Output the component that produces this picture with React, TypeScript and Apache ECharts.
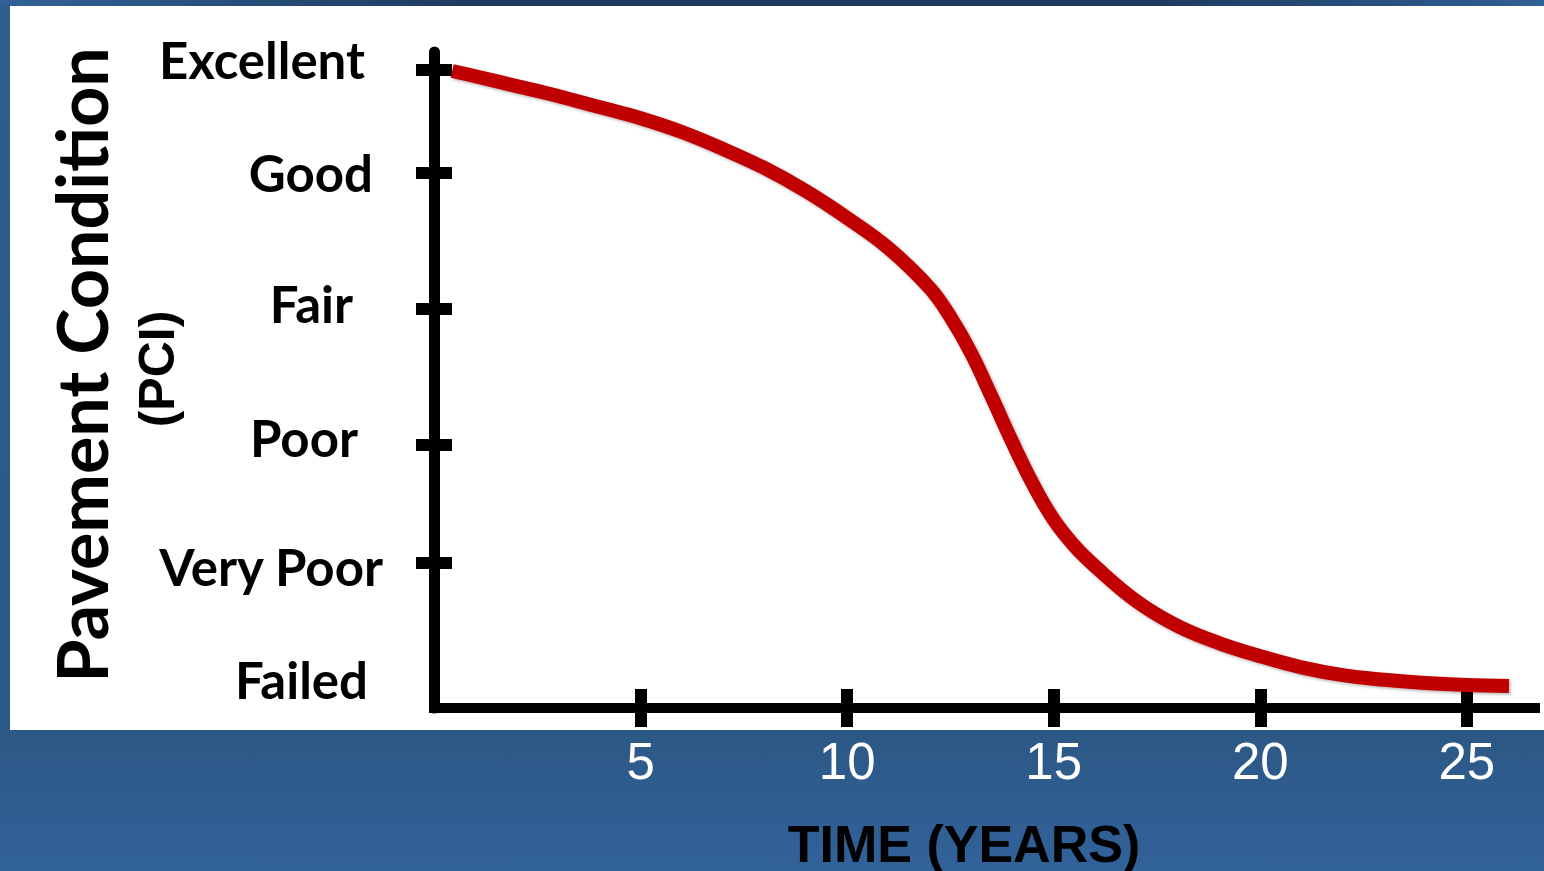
import React, { useEffect, useRef } from "react";
import * as echarts from "echarts";

// ---- data ----
const years = [0.44, 1, 2, 3, 4, 5, 6, 7, 8, 9, 10, 11, 12, 12.5, 13, 13.5, 14, 14.5, 15, 15.5, 16, 17, 18, 19, 20, 21, 22, 23, 24, 25, 26.02];
const pci = [97.1, 96.3, 94.8, 93.3, 91.6, 89.9, 87.8, 85.2, 82.3, 78.8, 74.7, 70.1, 64.0, 59.6, 54.1, 47.4, 40.5, 34.1, 28.7, 24.7, 21.6, 16.3, 12.5, 9.9, 7.9, 6.2, 5.0, 4.3, 3.8, 3.5, 3.35];

const xTickValues = [5, 10, 15, 20, 25];
const yTickValues = [97.3, 81.6, 60.8, 40.1, 22.1];
const yLabelNames = ["Excellent", "Good", "Fair", "Poor", "Very Poor", "Failed"];
const yLabelValues = [98.8, 81.7, 61.6, 41.3, 21.5, 4.4];

const xTitle = "TIME (YEARS)";
const yTitle = "Pavement Condition";
const ySubTitle = "(PCI)";

// ---- styles ----
const labelPadRight = [18, 10, 30, 25, 0, 15];
const W = 1544;
const H = 871;

export default function App() {
  const ref = useRef<HTMLDivElement>(null);

  useEffect(() => {
    if (!ref.current) return;
    const chart = echarts.init(ref.current, undefined, { renderer: "svg" });

    const rich: Record<string, any> = {};
    yLabelNames.forEach((_, i) => {
      rich["l" + i] = {
        fontFamily: "Lato, 'Open Sans', sans-serif",
        fontWeight: "bold",
        fontSize: 51,
        color: "#000",
        padding: [0, labelPadRight[i], 0, 0],
      };
    });

    const yLabelFormatter = (v: number) => {
      const i = yLabelValues.findIndex((lv) => Math.abs(lv - v) < 0.001);
      return i >= 0 ? `{l${i}|${yLabelNames[i]}}` : "";
    };

    const option: any = {
      animation: false,
      graphic: [
        {
          type: "rect",
          z: -20,
          shape: { x: 0, y: 0, width: W, height: H },
          style: {
            fill: new echarts.graphic.LinearGradient(0, 0, 0, 1, [
              { offset: 0, color: "#2e5d90" },
              { offset: 0.84, color: "#2c5885" },
              { offset: 1, color: "#31629a" },
            ]),
          },
        },
        {
          type: "rect",
          z: -19,
          shape: { x: 0, y: 0, width: W, height: 6 },
          style: {
            fill: new echarts.graphic.LinearGradient(0, 0, 1, 0, [
              { offset: 0, color: "#306297" },
              { offset: 0.3, color: "#1f3b60" },
              { offset: 0.75, color: "#1f3b60" },
              { offset: 1, color: "#2f6096" },
            ]),
          },
        },
        {
          type: "rect",
          z: -18,
          shape: { x: 10, y: 6, width: W - 10, height: 724 },
          style: { fill: "#ffffff" },
        },
        {
          type: "text",
          z: 10,
          x: 81,
          y: 365,
          rotation: Math.PI / 2,
          style: {
            text: yTitle,
            fontFamily: "Lato, 'Open Sans', sans-serif",
            fontWeight: "bold",
            fontSize: 70,
            fill: "#000",
            textAlign: "center",
            textVerticalAlign: "middle",
          },
        },
        {
          type: "text",
          z: 10,
          x: 157,
          y: 369,
          rotation: Math.PI / 2,
          style: {
            text: ySubTitle,
            fontFamily: "'Liberation Sans', Arial, sans-serif",
            fontWeight: "bold",
            fontSize: 50,
            fill: "#000",
            textAlign: "center",
            textVerticalAlign: "middle",
          },
        },
        {
          type: "text",
          z: 10,
          x: 964,
          y: 844,
          style: {
            text: xTitle,
            fontFamily: "'Liberation Sans', Arial, sans-serif",
            fontWeight: "bold",
            fontSize: 52,
            fill: "#000",
            textAlign: "center",
            textVerticalAlign: "middle",
          },
        },
      ],
      grid: {
        left: 434,
        right: 9,
        top: 52,
        bottom: 163,
        containLabel: false,
        outerBoundsMode: "none",
      },
      xAxis: [
        {
          type: "value",
          position: "bottom",
          min: 0,
          max: 26.65,
          axisLine: {
            show: true,
            onZero: false,
            lineStyle: { color: "#000", width: 10, cap: "square" },
          },
          axisTick: {
            show: true,
            inside: false,
            length: 19,
            customValues: xTickValues,
            lineStyle: { color: "#000", width: 12 },
          },
          axisLabel: {
            show: true,
            customValues: xTickValues,
            margin: 28,
            color: "#fff",
            fontSize: 51,
            fontFamily: "'Liberation Sans', Arial, sans-serif",
          },
          splitLine: { show: false },
        },
        {
          type: "value",
          position: "bottom",
          offset: 0,
          min: 0,
          max: 26.65,
          axisLine: { show: false, onZero: false },
          axisTick: {
            show: true,
            inside: true,
            length: 19,
            customValues: xTickValues,
            lineStyle: { color: "#000", width: 12 },
          },
          axisLabel: { show: false },
          splitLine: { show: false },
        },
      ],
      yAxis: [
        {
          type: "value",
          position: "left",
          min: 0,
          max: 100,
          axisLine: {
            show: true,
            onZero: false,
            lineStyle: { color: "#000", width: 11 },
          },
          axisTick: {
            show: true,
            inside: false,
            length: 18,
            customValues: yTickValues,
            lineStyle: { color: "#000", width: 12 },
          },
          axisLabel: {
            show: true,
            customValues: yLabelValues,
            margin: 51,
            formatter: yLabelFormatter,
            rich,
          },
          splitLine: { show: false },
        },
        {
          type: "value",
          position: "left",
          offset: 0,
          min: 0,
          max: 100,
          axisLine: { show: false, onZero: false },
          axisTick: {
            show: true,
            inside: true,
            length: 18,
            customValues: yTickValues,
            lineStyle: { color: "#000", width: 12 },
          },
          axisLabel: { show: false },
          splitLine: { show: false },
        },
      ],
      series: [
        {
          type: "line",
          xAxisIndex: 0,
          yAxisIndex: 0,
          data: years.map((x, i) => [x, pci[i]]),
          smooth: 0.4,
          showSymbol: false,
          symbol: "none",
          z: 5,
          lineStyle: {
            color: "#c00000",
            width: 14,
            cap: "butt",
            shadowBlur: 3,
            shadowColor: "rgba(0,0,0,0.3)",
            shadowOffsetX: 1.5,
            shadowOffsetY: 1.5,
          },
        },
      ],
    };

    chart.setOption(option);
    return () => chart.dispose();
  }, []);

  return (
    <div
      ref={ref}
      style={{ position: "fixed", left: 0, top: 0, width: W, height: H }}
    />
  );
}
